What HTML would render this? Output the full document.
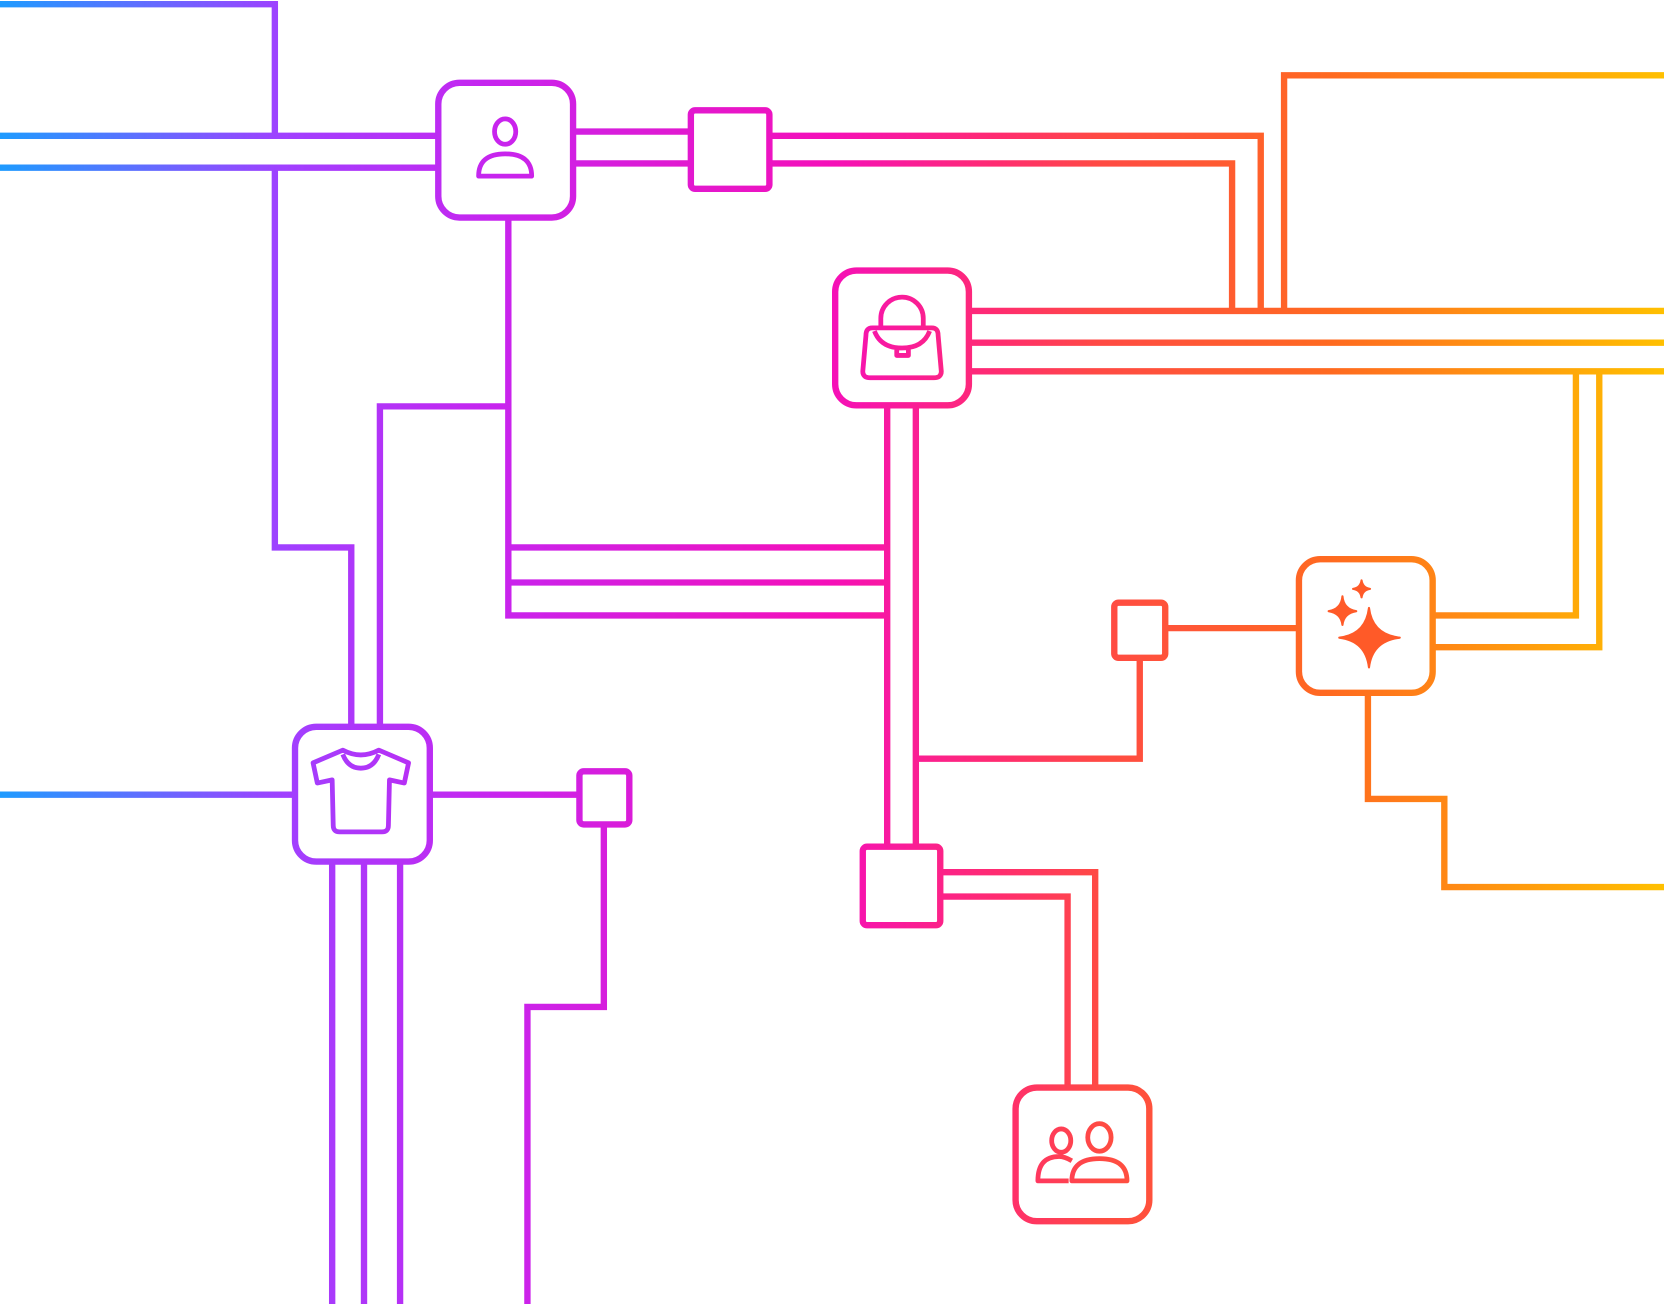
<!DOCTYPE html>
<html><head><style>html,body{margin:0;padding:0;background:#fff}svg{display:block}</style></head>
<body>
<svg width="1664" height="1304" viewBox="0 0 1568 1229" preserveAspectRatio="none" xmlns="http://www.w3.org/2000/svg">
<defs>
<linearGradient id="g" gradientUnits="userSpaceOnUse" x1="0" y1="0" x2="1568" y2="0">
<stop offset="0" stop-color="#1e9bff"/>
<stop offset="0.17" stop-color="#a040ff"/>
<stop offset="0.3" stop-color="#c824ee"/>
<stop offset="0.5" stop-color="#f510b8"/>
<stop offset="0.6" stop-color="#ff2c70"/>
<stop offset="0.66" stop-color="#ff4a44"/>
<stop offset="0.8" stop-color="#ff6a20"/>
<stop offset="1" stop-color="#ffc000"/>
</linearGradient>
</defs>
<g fill="none" stroke="url(#g)" stroke-width="6">
<path d="M0 4H259V128M259 158V516H331V685"/>
<path d="M0 128H413M0 158H413"/>
<path d="M540 124H651M540 154H651"/>
<path d="M725 128H1188V293M725 154H1161V293"/>
<path d="M1210 293V71H1568"/>
<path d="M913 293H1568M913 323H1568M913 350H1568"/>
<path d="M1485 350V580H1350M1507 350V610H1350"/>
<path d="M1098 592H1224M1074 620V715H864"/>
<path d="M1289 653V753H1361V836H1568"/>
<path d="M836 382V798M863 382V798"/>
<path d="M479 205V580H836M479 516H836M479 549H836"/>
<path d="M479 383H358V685"/>
<path d="M0 749H278M405 749H546"/>
<path d="M569 777V949H497V1229"/>
<path d="M313 812V1229M343 812V1229M377 812V1229"/>
<path d="M886 822H1032V1025M886 845H1006V1025"/>
<g fill="#fff">
<rect x="413" y="78" width="127" height="127" rx="20"/>
<rect x="651" y="104" width="74" height="74" rx="4"/>
<rect x="787" y="255" width="126" height="127" rx="20"/>
<rect x="1224" y="527" width="126" height="126" rx="20"/>
<rect x="1050" y="568" width="48" height="52" rx="4"/>
<rect x="278" y="685" width="127" height="127" rx="20"/>
<rect x="546" y="727" width="47" height="50" rx="4"/>
<rect x="813" y="798" width="73" height="74" rx="4"/>
<rect x="957" y="1025" width="126" height="126" rx="20"/>
</g>
</g>
<g fill="none" stroke="url(#g)" stroke-width="4.5" stroke-linejoin="round">
<ellipse cx="476" cy="124" rx="10" ry="12"/>
<path d="M451 166Q451 145 476 145Q501 145 501 166Z"/>
<path d="M830 308V300a20 20 0 0 1 40 0V308"/>
<path d="M822 309H878Q884 309 884 316L887 350Q887 356 880 356H820Q813 356 813 350L816 316Q816 309 822 309Z"/>
<path d="M824 312Q830 328 850 328Q870 328 876 312M845 328V335H856V328"/>
<path d="M295 719L323 707Q340 716 357 707L385 719L381 738L367 735L366 778Q366 784 360 784H320Q314 784 314 778L313 735L299 738Z"/>
<path d="M323 711Q328 724 340 724Q352 724 357 711"/>
<ellipse cx="1000" cy="1075" rx="9" ry="11"/>
<path d="M1010 1094Q1003 1090 998 1090Q978 1090 978 1113H1007"/>
<ellipse cx="1036" cy="1072" rx="11" ry="13"/>
<path d="M1010 1113Q1010 1092 1036 1092Q1062 1092 1062 1113Z"/>
</g>
<g fill="#ff5a28" stroke="#ff5a28" stroke-width="2" stroke-linejoin="round">
<path d="M1290 573Q1293 598 1319 601Q1293 604 1290 629Q1287 604 1262 601Q1287 598 1290 573Z"/>
<path d="M1265 562Q1266 574 1278 576Q1266 578 1265 589Q1264 578 1252 576Q1264 574 1265 562Z"/>
<path d="M1283 547Q1284 554 1291 555Q1284 556 1283 563Q1282 556 1275 555Q1282 554 1283 547Z"/>
</g>
</svg>
</body></html>
